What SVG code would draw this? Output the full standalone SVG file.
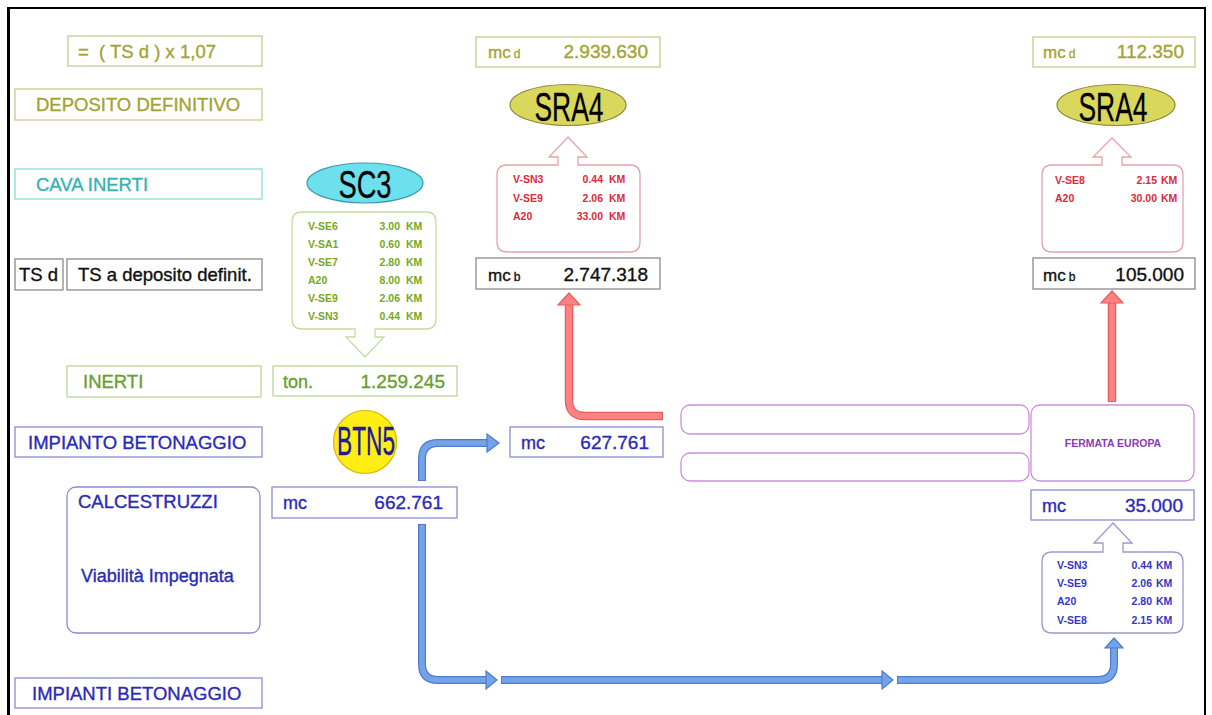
<svg xmlns="http://www.w3.org/2000/svg" width="1212" height="715" viewBox="0 0 1212 715">
<style>
text{font-family:"Liberation Sans",Arial,sans-serif}
.box{fill:#fff;stroke-width:1.3}
.ol{stroke:#c9c98f}.olt{fill:#a3a332;stroke:#a3a332}
.cy{stroke:#8fdada}.cyt{fill:#35b3b3;stroke:#35b3b3}
.gr{stroke:#bcd69a}.grt{fill:#6a9e30;stroke:#6a9e30}
.gy{stroke:#8a8a8a}.gyt{fill:#111;stroke:#111}
.bl{stroke:#8c8cd0}.blt{fill:#2a2ab8;stroke:#2a2ab8}
.lg,.val,.mc{stroke-width:0.35}
.lg{font-size:18.5px}
.val{font-size:19px}
.mc{font-size:17px}
.sub{font-size:12px}
.sm{font-size:10.5px;font-weight:bold}
.pk{fill:#fff;stroke:#e7a3aa;stroke-width:1.3}
.pkt{fill:#dd2a3a}
.gc{fill:#fff;stroke:#c6dca3;stroke-width:1.3}
.gct{fill:#76a826}
.bc{fill:#fff;stroke:#9a9ad0;stroke-width:1.3}
.bct{fill:#3535c8}
.pu{fill:#fff;stroke:#cf8ede;stroke-width:1.3}
.big{font-size:40px;fill:#000;stroke:#000;stroke-width:0.3}
.bso{fill:none;stroke:#4c7dcf;stroke-width:8}
.bsi{fill:none;stroke:#74a3e7;stroke-width:5.5}
.bh{fill:#74a3e7;stroke:#4c7dcf;stroke-width:1.2}
.rso{fill:none;stroke:#e85c5c;stroke-width:8.5}
.rsi{fill:none;stroke:#ff8282;stroke-width:6}
.rh{fill:#ff8282;stroke:#e85c5c;stroke-width:1.2}
</style>
<rect width="1212" height="715" fill="#fff"/>
<path d="M8,720 V8 H1205 V720" fill="none" stroke="#000" stroke-width="2"/>
<line x1="8.5" y1="8" x2="8.5" y2="715" stroke="#000" stroke-width="3"/>

<g id="legend-formula"><rect class="box ol" x="68" y="36" width="194" height="30"/><text class="lg olt" x="78" y="58" xml:space="preserve">=  ( TS d ) x 1,07</text></g>
<g id="legend-deposito"><rect class="box ol" x="15" y="89" width="247" height="31"/><text class="lg olt" x="36" y="111">DEPOSITO DEFINITIVO</text></g>
<g id="legend-cava"><rect class="box cy" x="15" y="169" width="247" height="30"/><text class="lg cyt" x="36" y="190.5">CAVA INERTI</text></g>
<g id="legend-tsd"><rect class="box gy" x="15" y="259" width="48" height="31"/><text class="lg gyt" x="19" y="281">TS d</text></g>
<g id="legend-tsdesc"><rect class="box gy" x="67" y="259" width="195" height="31"/><text class="lg gyt" x="78" y="281">TS a deposito definit.</text></g>
<g id="legend-inerti"><rect class="box gr" x="67" y="366" width="194" height="31"/><text class="lg grt" x="83" y="388">INERTI</text></g>
<g id="legend-impianto"><rect class="box bl" x="15" y="427" width="247" height="30"/><text class="lg blt" x="28" y="448.5">IMPIANTO BETONAGGIO</text></g>
<g id="legend-calcestruzzi"><rect class="box bl" x="67" y="487" width="193" height="146" rx="9"/><text class="lg blt" x="78" y="508">CALCESTRUZZI</text><text class="lg blt" x="81" y="582" style="font-size:18px">Viabilità Impegnata</text></g>
<g id="legend-impianti"><rect class="box bl" x="15" y="678" width="247" height="30"/><text class="lg blt" x="32" y="699.5">IMPIANTI BETONAGGIO</text></g>

<g id="sc3"><ellipse cx="365" cy="183" rx="58" ry="20" fill="#6de0ee" stroke="#3a9aaa" stroke-width="1.2"/><text class="big" x="365" y="198" text-anchor="middle" textLength="53" lengthAdjust="spacingAndGlyphs" style="font-size:38px">SC3</text></g>
<g id="sc3-route">
<path class="gc" d="M302,212 H426 Q436,212 436,222 V319 Q436,329 426,329 H375 V337 H384 L365,357 L346,337 H355 V329 H302 Q292,329 292,319 V222 Q292,212 302,212 Z"/>
<g class="sm gct">
<text x="308" y="230">V-SE6</text><text x="400" y="230" text-anchor="end">3.00</text><text x="406" y="230">KM</text>
<text x="308" y="248">V-SA1</text><text x="400" y="248" text-anchor="end">0.60</text><text x="406" y="248">KM</text>
<text x="308" y="266">V-SE7</text><text x="400" y="266" text-anchor="end">2.80</text><text x="406" y="266">KM</text>
<text x="308" y="284">A20</text><text x="400" y="284" text-anchor="end">8.00</text><text x="406" y="284">KM</text>
<text x="308" y="302">V-SE9</text><text x="400" y="302" text-anchor="end">2.06</text><text x="406" y="302">KM</text>
<text x="308" y="320">V-SN3</text><text x="400" y="320" text-anchor="end">0.44</text><text x="406" y="320">KM</text>
</g></g>
<g id="ton"><rect class="box gr" x="273" y="366" width="184" height="30"/><text class="val grt" x="283" y="388" style="font-size:18px">ton.</text><text class="val grt" x="445" y="388" text-anchor="end">1.259.245</text></g>

<g id="mcd1"><rect class="box ol" x="476" y="37" width="184" height="30"/><text class="mc olt" x="488" y="58">mc<tspan class="sub" dx="3">d</tspan></text><text class="val olt" x="648" y="58" text-anchor="end">2.939.630</text></g>
<g id="sra4-1"><ellipse cx="568" cy="105" rx="58" ry="20.5" fill="#d9d85c" stroke="#8a8a38" stroke-width="1.2"/><text class="big" x="569" y="121" text-anchor="middle" textLength="69" lengthAdjust="spacingAndGlyphs">SRA4</text></g>
<g id="route-1">
<path class="pk" d="M507,165 H558 V157 H549 L568,137 L587,157 H578 V165 H630 Q640,165 640,175 V242 Q640,252 630,252 H507 Q497,252 497,242 V175 Q497,165 507,165 Z"/>
<g class="sm pkt">
<text x="513" y="183">V-SN3</text><text x="603" y="183" text-anchor="end">0.44</text><text x="609" y="183">KM</text>
<text x="513" y="202">V-SE9</text><text x="603" y="202" text-anchor="end">2.06</text><text x="609" y="202">KM</text>
<text x="513" y="220">A20</text><text x="603" y="220" text-anchor="end">33.00</text><text x="609" y="220">KM</text>
</g></g>
<g id="mcb1"><rect class="box gy" x="476" y="258" width="184" height="31"/><text class="mc gyt" x="488" y="281">mc<tspan class="sub" dx="3">b</tspan></text><text class="val gyt" x="648" y="281" text-anchor="end">2.747.318</text></g>

<g id="mcd2"><rect class="box ol" x="1033" y="37" width="162" height="30"/><text class="mc olt" x="1043" y="58">mc<tspan class="sub" dx="3">d</tspan></text><text class="val olt" x="1184" y="58" text-anchor="end">112.350</text></g>
<g id="sra4-2"><ellipse cx="1116" cy="105" rx="59" ry="20.5" fill="#d9d85c" stroke="#8a8a38" stroke-width="1.2"/><text class="big" x="1113" y="121" text-anchor="middle" textLength="69" lengthAdjust="spacingAndGlyphs">SRA4</text></g>
<g id="route-2">
<path class="pk" d="M1052,165 H1102 V157 H1093 L1112,138 L1131,157 H1122 V165 H1173 Q1183,165 1183,175 V242 Q1183,252 1173,252 H1052 Q1042,252 1042,242 V175 Q1042,165 1052,165 Z"/>
<g class="sm pkt">
<text x="1055" y="184">V-SE8</text><text x="1157" y="184" text-anchor="end">2.15</text><text x="1161" y="184">KM</text>
<text x="1055" y="202">A20</text><text x="1157" y="202" text-anchor="end">30.00</text><text x="1161" y="202">KM</text>
</g></g>
<g id="mcb2"><rect class="box gy" x="1033" y="258" width="162" height="31"/><text class="mc gyt" x="1043" y="281">mc<tspan class="sub" dx="3">b</tspan></text><text class="val gyt" x="1184" y="281" text-anchor="end">105.000</text></g>

<g id="btn5"><circle cx="365" cy="442" r="31.5" fill="#ffee14" stroke="#d8b800" stroke-width="1.2"/><text x="366" y="455" text-anchor="middle" textLength="58" lengthAdjust="spacingAndGlyphs" style="font-size:40px;fill:#1c1c9c;stroke:#1c1c9c;stroke-width:0.4">BTN5</text></g>
<g id="mc627"><rect class="box bl" x="510" y="427" width="153" height="30"/><text class="val blt" x="521" y="449" style="font-size:18px">mc</text><text class="val blt" x="649" y="449" text-anchor="end">627.761</text></g>
<g id="mc662"><rect class="box bl" x="272" y="487" width="185" height="31"/><text class="val blt" x="283" y="509" style="font-size:18px">mc</text><text class="val blt" x="443" y="509" text-anchor="end">662.761</text></g>

<g id="tunnel-1"><rect class="pu" x="681" y="405" width="348" height="29" rx="9"/></g>
<g id="tunnel-2"><rect class="pu" x="681" y="453" width="348" height="28" rx="9"/></g>
<g id="fermata"><rect class="pu" x="1031" y="405" width="163" height="76" rx="9"/><text x="1113" y="447" text-anchor="middle" style="font-size:10.5px;font-weight:bold;fill:#8a3cb8">FERMATA EUROPA</text></g>
<g id="mc35"><rect class="box bl" x="1031" y="490" width="163" height="30"/><text class="val blt" x="1042" y="512" style="font-size:18px">mc</text><text class="val blt" x="1183" y="512" text-anchor="end">35.000</text></g>
<g id="route-3">
<path class="bc" d="M1052,552 H1103 V543 H1094 L1113,523 L1132,543 H1123 V552 H1173 Q1183,552 1183,562 V623 Q1183,633 1173,633 H1052 Q1042,633 1042,623 V562 Q1042,552 1052,552 Z"/>
<g class="sm bct">
<text x="1057" y="569">V-SN3</text><text x="1152" y="569" text-anchor="end">0.44</text><text x="1156" y="569">KM</text>
<text x="1057" y="587">V-SE9</text><text x="1152" y="587" text-anchor="end">2.06</text><text x="1156" y="587">KM</text>
<text x="1057" y="605">A20</text><text x="1152" y="605" text-anchor="end">2.80</text><text x="1156" y="605">KM</text>
<text x="1057" y="624">V-SE8</text><text x="1152" y="624" text-anchor="end">2.15</text><text x="1156" y="624">KM</text>
</g></g>

<g id="connectors">
<path class="rso" d="M663,416 H585 Q569,416 569,400 V305"/>
<path class="rsi" d="M662,416 H585 Q569,416 569,400 V304"/>
<polygon class="rh" points="558,305 569,293 580,305"/>
<path class="rso" d="M1112,402 V303"/>
<path class="rsi" d="M1112,401 V302"/>
<polygon class="rh" points="1101,303 1112,291 1123,303"/>

<path class="bso" d="M422,481 V459 Q422,443 438,443 H488"/>
<path class="bsi" d="M422,480 V459 Q422,443 438,443 H489"/>
<polygon class="bh" points="487,434 499,443 487,452"/>

<path class="bso" d="M422,524 V664 Q422,680 438,680 H487"/>
<path class="bsi" d="M422,525 V664 Q422,680 438,680 H488"/>
<polygon class="bh" points="486,671 497,680 486,689"/>

<path class="bso" d="M501,680 H883"/>
<path class="bsi" d="M502,680 H884"/>
<polygon class="bh" points="882,671 893,680 882,689"/>

<path class="bso" d="M897,680 H1098 Q1114,680 1114,664 V647"/>
<path class="bsi" d="M898,680 H1098 Q1114,680 1114,664 V646"/>
<polygon class="bh" points="1105,648 1114,638 1123,648"/>
</g>
</svg>
